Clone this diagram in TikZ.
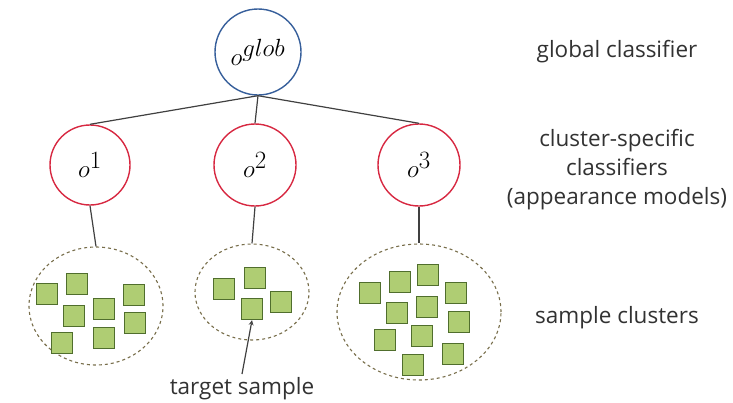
\documentclass[tikz,border=0pt]{standalone}
\usepackage{fontspec}
\setmainfont{Open Sans}
\usetikzlibrary{shapes.geometric}
\definecolor{globblue}{RGB}{55,95,155}
\definecolor{clsred}{RGB}{215,40,65}
\definecolor{sqfill}{RGB}{175,205,115}
\definecolor{sqdraw}{RGB}{80,110,45}
\definecolor{clusdash}{RGB}{120,110,75}
\definecolor{txtgray}{RGB}{50,50,50}
\begin{document}
\begin{tikzpicture}[x=1pt, y=-1pt, thick,
             main/.style = {draw, circle, line width=1.4pt, inner sep=0pt,
                            font=\fontsize{34}{34}\selectfont},
             clus/.style = {draw=clusdash, ellipse, dashed, line width=1.1pt},
             sq/.style = {draw=sqdraw, fill=sqfill, line width=1.4pt, minimum size=21pt, inner sep=0pt},
             edge/.style = {line width=1.2pt, black!75},
             lab/.style = {text=txtgray, align=center, font=\fontsize{22.5}{29}\selectfont}]
            \useasboundingbox (0,0) rectangle (733,402);

            % Classificatore globale
            \node[main, draw=globblue, minimum size=86pt] (g) at (258,52) {$o^{glob}$};

            % Classificatori dei cluster
            \node[main, draw=clsred, minimum size=80pt] (c1) at (90,165) {$o^1$};
            \node[main, draw=clsred, minimum size=82pt] (c2) at (255,165) {$o^2$};
            \node[main, draw=clsred, minimum size=82pt] (c3) at (419,165) {$o^3$};

            % Cluster di campioni
            \node[clus, minimum width=134pt, minimum height=118pt] (s1) at (96,306) {};
            \node[clus, minimum width=114pt, minimum height=96pt] (s2) at (252,292) {};
            \node[clus, minimum width=164pt, minimum height=136pt] (s3) at (419,312) {};

            \foreach \x/\y in {47/294, 77/284, 74/316, 104/309, 134/295, 135/323, 104/338, 62/343}
                \node[sq] at (\x,\y) {};
            \foreach \x/\y in {224/289, 255/278, 281/302}
                \node[sq] at (\x,\y) {};
            \node[sq] (t) at (252,309) {};
            \foreach \x/\y in {370/293, 400/282, 428/275, 456/293, 397/313, 427/307,
                               459/322, 385/340, 422/336, 453/354, 413/365}
                \node[sq] at (\x,\y) {};

            % Archi
            \draw[edge] (g.south) -- (c1.north);
            \draw[edge] (g.south) -- (c2.north);
            \draw[edge] (g.south) -- (c3.north);
            \draw[edge] (c1.south) -- (s1.north);
            \draw[edge] (c2.south) -- (s2.north);
            \draw[edge] (c3.south) -- (s3.north);

            % Etichette
            \node[lab] (lg) at (617,52) {global classifier};
            \node[lab] (lc) at (617,170) {cluster-specific\\classifiers\\(appearance models)};
            \node[lab] (ls) at (617,318) {sample clusters};
            \node[lab] (lt) at (242,389) {target sample};
            \draw[edge, ->, >=stealth] (lt.north) -- (t.south);
        \end{tikzpicture}
\end{document}
